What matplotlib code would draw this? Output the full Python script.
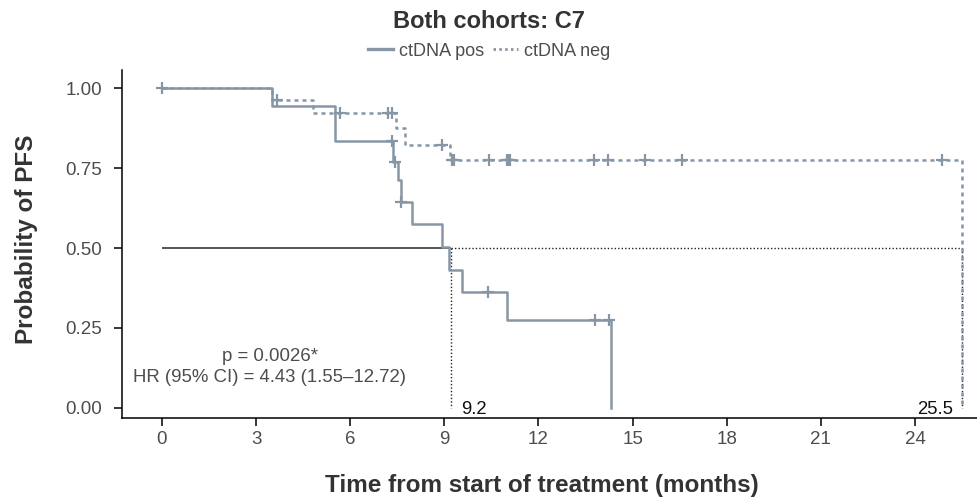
import matplotlib
matplotlib.use("Agg")
import matplotlib.pyplot as plt
from matplotlib.lines import Line2D
import numpy as np

plt.rcParams['font.family'] = ['Liberation Sans', 'DejaVu Sans']

# ---- data ----
# ctDNA pos: step curve (time, survival after step)
pos_times = [0, 3.5, 5.5, 7.36, 7.52, 7.62, 7.97, 8.93, 9.15, 9.56, 11.0, 14.3]
pos_surv = [1.0, 0.944, 0.833, 0.769, 0.712, 0.644, 0.575, 0.502, 0.431, 0.362, 0.275, 0.0]
pos_censor = [0, 7.33, 7.42, 7.62, 10.4, 13.8, 14.25]

# ctDNA neg
neg_times = [0, 3.5, 4.8, 7.46, 7.74, 9.18, 25.5]
neg_surv = [1.0, 0.962, 0.922, 0.875, 0.822, 0.775, 0.0]
neg_censor = [3.66, 5.67, 7.2, 7.33, 8.92, 9.24, 9.31, 10.42, 11.0, 11.05, 11.1,
              13.77, 14.2, 15.39, 16.57, 24.86]

medians = [9.2, 25.5]
median_labels = ["9.2", "25.5"]

x_ticks = [0, 3, 6, 9, 12, 15, 18, 21, 24]
y_ticks = [0.0, 0.25, 0.5, 0.75, 1.0]
y_ticklabels = ["0.00", "0.25", "0.50", "0.75", "1.00"]

title = "Both cohorts: C7"
series_names = ["ctDNA pos", "ctDNA neg"]
p_text = "p = 0.0026*"
hr_text = "HR (95% CI) = 4.43 (1.55\u201312.72)"

# ---- styling ----
curve_col = "#8796a4"
txt_col = "#4d4d4d"


def step_value(times, surv, t):
    idx = np.searchsorted(times, t, side="right") - 1
    return surv[max(idx, 0)]


fig = plt.figure(figsize=(9.78, 4.97), dpi=100)
ax = fig.add_axes([0.1247, 0.1598, 0.8999, 0.6985])

# median reference lines
ax.plot([0, medians[0]], [0.5, 0.5], color="#555555", lw=1.4, solid_capstyle="butt", zorder=2)
ax.plot([medians[0], medians[1]], [0.5, 0.5], color="#222222", lw=1.0,
        linestyle=(0, (1, 1.5)), zorder=2)
for m in medians:
    ax.plot([m, m], [0.5, 0.0], color="#222222", lw=1.0, linestyle=(0, (1, 1.5)), zorder=2)

# curves
ax.step(pos_times, pos_surv, where="post", color=curve_col, lw=1.8, zorder=3)
ax.step(neg_times, neg_surv, where="post", color=curve_col, lw=1.8,
        linestyle=(0, (1.6, 1.6)), zorder=3)

# censor marks
ax.plot(pos_censor, [step_value(pos_times, pos_surv, t) for t in pos_censor],
        linestyle="none", marker="+", ms=9, mew=1.6, color=curve_col, zorder=4)
ax.plot(neg_censor, [step_value(neg_times, neg_surv, t) for t in neg_censor],
        linestyle="none", marker="+", ms=9, mew=1.6, color=curve_col, zorder=4)

# median labels
ax.text(medians[0] + 0.35, -0.005, median_labels[0], ha="left", va="center",
        fontsize=13.3, color="#111111")
ax.text(medians[1] - 0.3, -0.005, median_labels[1], ha="right", va="center",
        fontsize=13.3, color="#111111")

# statistics annotation
ax.text(3.44, 0.16, p_text, ha="center", va="center", fontsize=13.4, color=txt_col)
ax.text(3.44, 0.094, hr_text, ha="center", va="center", fontsize=13.4, color=txt_col)

ax.set_xlim(-1.275, 26.775)
ax.set_ylim(-0.03, 1.055)
ax.set_xticks(x_ticks)
ax.set_yticks(y_ticks)
ax.set_yticklabels(y_ticklabels)
ax.tick_params(axis="both", direction="out", length=6, width=1.1, color="black",
               labelsize=13.5, labelcolor=txt_col)
ax.tick_params(axis="x", pad=3.6)
ax.tick_params(axis="y", pad=8.5)
for s in ["top", "right"]:
    ax.spines[s].set_visible(False)
for s in ["left", "bottom"]:
    ax.spines[s].set_linewidth(1.1)
    ax.spines[s].set_color("black")

ax.set_xlabel("Time from start of treatment (months)", fontsize=17.5, fontweight="bold",
              color="#333333")
ax.set_ylabel("Probability of PFS", fontsize=17.5, fontweight="bold",
              color="#333333")
ax.xaxis.set_label_coords(0.477, -0.163)
ax.yaxis.set_label_coords(-0.095, 0.515)

fig.text(0.5, 0.957, title, ha="center", va="center", fontsize=17,
         fontweight="bold", color="#333333")

handles = [Line2D([], [], color=curve_col, lw=2.4),
           Line2D([], [], color=curve_col, lw=2.0, linestyle=(0, (0.9, 1.2)))]
fig.legend(handles, series_names, loc="center", bbox_to_anchor=(0.5, 0.897), ncol=2,
           frameon=False, fontsize=13, handlelength=1.4, handletextpad=0.35,
           columnspacing=0.45, labelcolor=txt_col)

fig.savefig("out.png", dpi=100)
